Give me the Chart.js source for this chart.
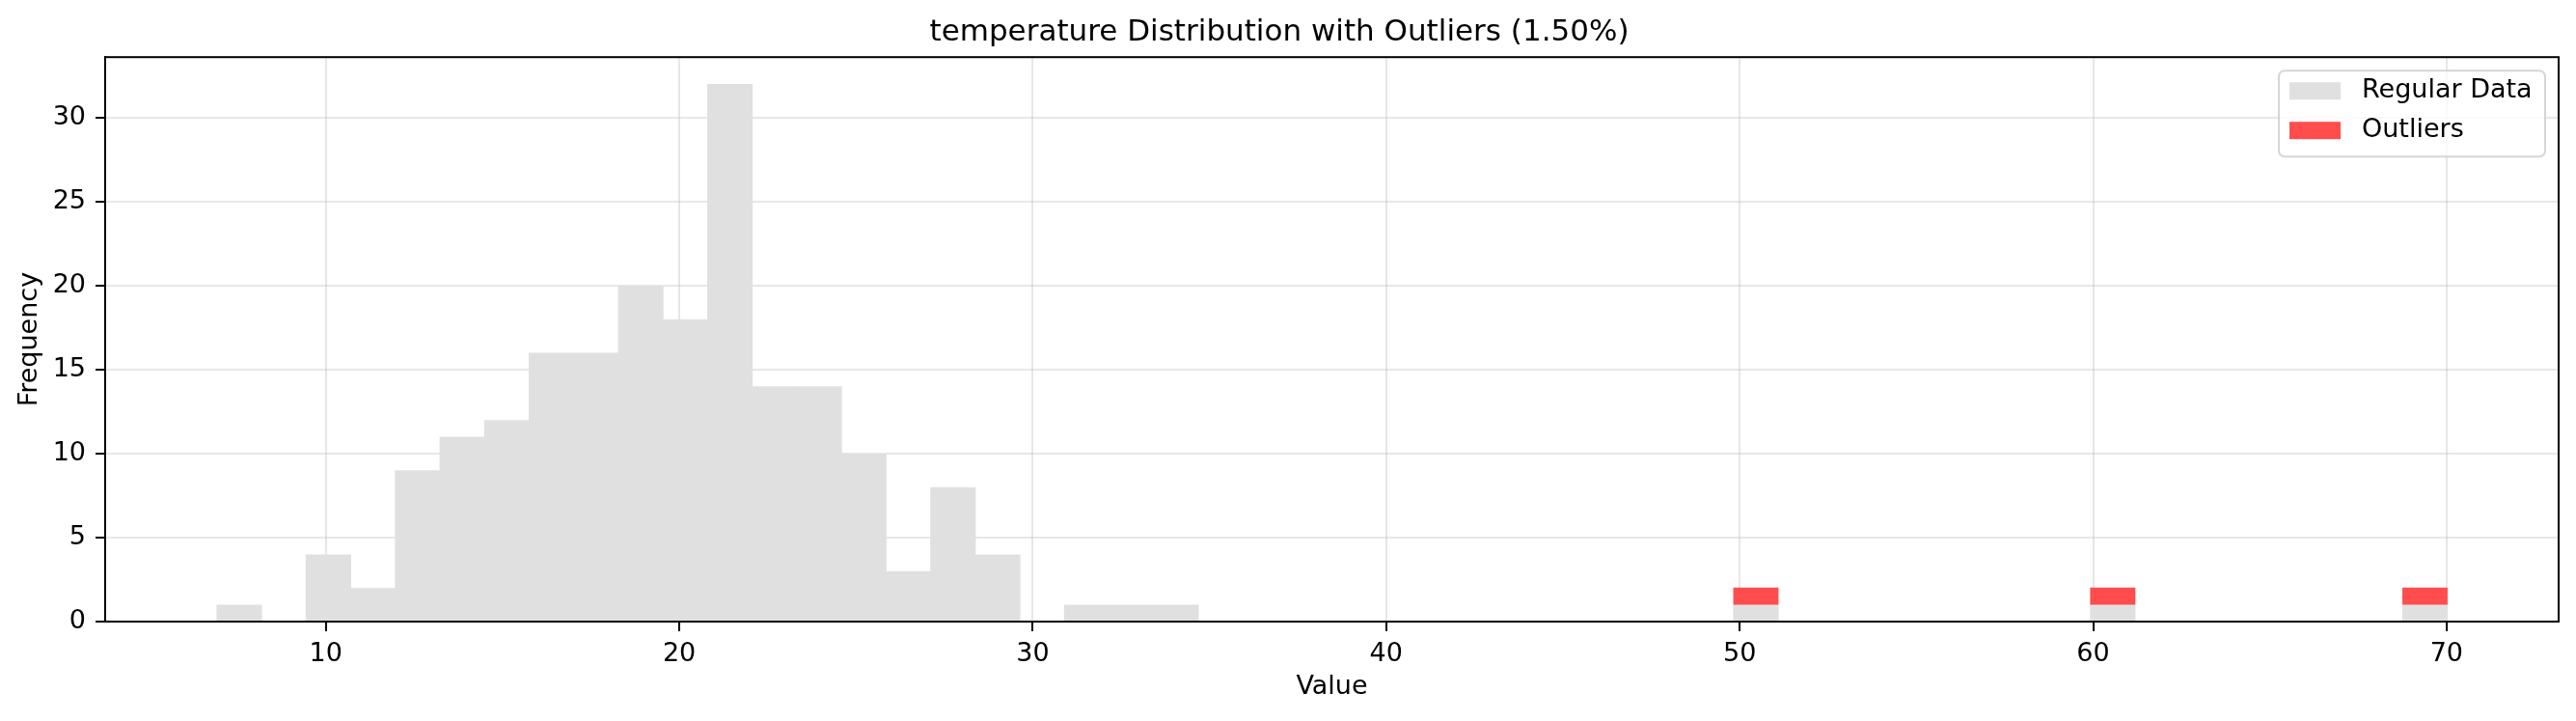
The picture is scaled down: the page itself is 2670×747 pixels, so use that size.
<!DOCTYPE html>
<html>
<head>
<meta charset="utf-8">
<script src="https://cdn.jsdelivr.net/npm/chart.js@4.4.1/dist/chart.umd.min.js"></script>
<style>
  html, body { margin: 0; padding: 0; background: #fff; }
  #wrap { width: 2670px; height: 747px; }
</style>
</head>
<body>
<div id="wrap"><canvas id="histChart" width="2670" height="747"></canvas></div>
<script>
// histogram: 50 equal bins over the data range
const rangeLow = 6.92;
const rangeHigh = 70.02;
const binCount = 50;

const regularCounts = [
  1, 0, 4, 2, 9, 11, 12, 16, 16, 20,
  18, 32, 14, 14, 10, 3, 8, 4, 0, 1,
  1, 1, 0, 0, 0, 0, 0, 0, 0, 0,
  0, 0, 0, 0, 1, 0, 0, 0, 0, 0,
  0, 0, 1, 0, 0, 0, 0, 0, 0, 1
];
const outlierCounts = [
  0, 0, 0, 0, 0, 0, 0, 0, 0, 0,
  0, 0, 0, 0, 0, 0, 0, 0, 0, 0,
  0, 0, 0, 0, 0, 0, 0, 0, 0, 0,
  0, 0, 0, 0, 1, 0, 0, 0, 0, 0,
  0, 0, 1, 0, 0, 0, 0, 0, 0, 1
];

const xTicks = [10, 20, 30, 40, 50, 60, 70];
const yTicks = [0, 5, 10, 15, 20, 25, 30];

const binWidth = (rangeHigh - rangeLow) / binCount;
const binCenter = i => rangeLow + (i + 0.5) * binWidth;
// empty bins are left out so nothing is drawn there
const toPoints = counts => counts.map((c, i) => ({ x: binCenter(i), y: c > 0 ? c : null }));

const FONT = "'DejaVu Sans', sans-serif";
const GRID = 'rgba(176,176,176,0.3)';

// top and right spines
const framePlugin = {
  id: 'frame',
  afterDraw(chart) {
    const a = chart.chartArea, ctx = chart.ctx;
    ctx.save();
    ctx.strokeStyle = '#000';
    ctx.lineWidth = 2;
    ctx.strokeRect(a.left, a.top, a.right - a.left, a.bottom - a.top);
    ctx.restore();
  }
};

// matplotlib-like legend box in the upper right
const boxLegend = {
  id: 'boxLegend',
  afterDraw(chart) {
    const a = chart.chartArea, ctx = chart.ctx;
    const sets = chart.data.datasets;
    const w = 276, h = 89;
    const x = a.right - 14 - w, y = a.top + 14;
    ctx.save();
    ctx.beginPath();
    ctx.roundRect(x, y, w, h, 6);
    ctx.fillStyle = 'rgba(255,255,255,0.8)';
    ctx.fill();
    ctx.strokeStyle = 'rgba(204,204,204,0.8)';
    ctx.lineWidth = 2;
    ctx.stroke();
    ctx.font = '27px ' + FONT;
    ctx.textBaseline = 'middle';
    sets.forEach((ds, i) => {
      const cy = y + 21 + i * 41;
      ctx.fillStyle = ds.backgroundColor;
      ctx.fillRect(x + 11, cy - 9, 53, 18);
      ctx.fillStyle = '#000';
      ctx.fillText(ds.label, x + 86, cy);
    });
    ctx.restore();
  }
};

new Chart(document.getElementById('histChart'), {
  type: 'bar',
  data: {
    datasets: [
      {
        label: 'Regular Data',
        data: toPoints(regularCounts),
        backgroundColor: '#e0e0e0',
        borderWidth: 0,
        barPercentage: 1.02,
        categoryPercentage: 1
      },
      {
        label: 'Outliers',
        data: toPoints(outlierCounts),
        backgroundColor: '#ff4d4d',
        borderWidth: 0,
        barPercentage: 1,
        categoryPercentage: 1
      }
    ]
  },
  options: {
    responsive: false,
    animation: false,
    devicePixelRatio: 1,
    layout: { padding: { left: 0, right: 18, top: 0, bottom: 0 } },
    plugins: {
      legend: { display: false },
      tooltip: { enabled: false },
      title: {
        display: true,
        text: 'temperature Distribution with Outliers (1.50%)',
        color: '#000',
        font: { family: FONT, size: 31, weight: 'normal' },
        padding: { top: 15, bottom: 7 }
      }
    },
    scales: {
      x: {
        type: 'linear',
        stacked: true,
        offset: false,
        z: 1,
        min: 3.757,
        max: 73.17,
        afterBuildTicks: s => { s.ticks = xTicks.map(v => ({ value: v })); },
        afterFit: s => { s.height = 103; },
        ticks: { color: '#000', font: { family: FONT, size: 27 }, padding: 8, maxRotation: 0 },
        grid: { offset: false, color: GRID, lineWidth: 2, tickColor: '#000', tickLength: 10, tickWidth: 2 },
        border: { color: '#000', width: 2 },
        title: { display: true, text: 'Value', color: '#000', font: { family: FONT, size: 27 }, padding: { top: 0, bottom: 19 } }
      },
      y: {
        stacked: true,
        z: 1,
        min: 0,
        max: 33.6,
        afterBuildTicks: s => { s.ticks = yTicks.map(v => ({ value: v })); },
        afterFit: s => { s.width = 109; },
        ticks: { color: '#000', font: { family: FONT, size: 27 }, padding: 10 },
        grid: { color: GRID, lineWidth: 2, tickColor: '#000', tickLength: 10, tickWidth: 2 },
        border: { color: '#000', width: 2 },
        title: { display: true, text: 'Frequency', color: '#000', font: { family: FONT, size: 27 }, padding: { top: 15, bottom: 0 } }
      }
    }
  },
  plugins: [framePlugin, boxLegend]
});
</script>
</body>
</html>
